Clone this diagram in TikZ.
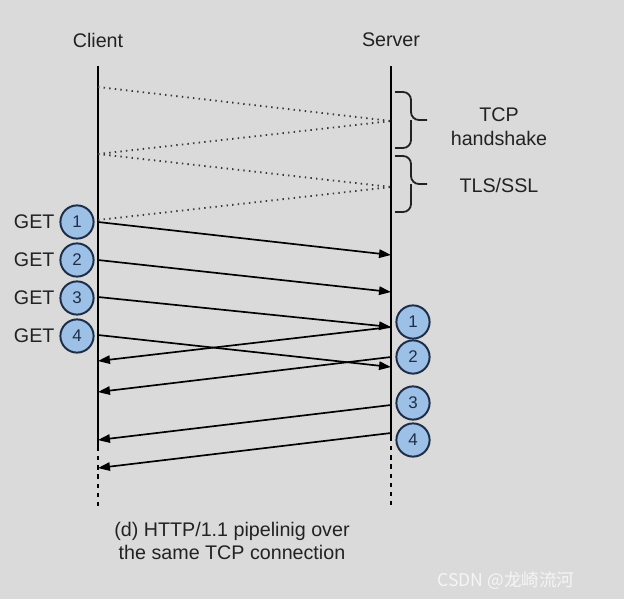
\documentclass[tikz,border=0pt]{standalone}
\usepackage{fontspec}
\setmainfont{Liberation Sans}
\newfontfamily\cjk{Noto Sans CJK SC}
\usepackage{tikz}
\usetikzlibrary{arrows.meta,positioning}

\definecolor{bggray}{HTML}{DADADA}
\definecolor{ballblue}{HTML}{9DC0E7}
\definecolor{balledge}{HTML}{1E2E48}
\definecolor{inkgray}{HTML}{222222}

\tikzset{
  life/.style={line width=1.4pt, draw=black},
  lifedash/.style={line width=1.4pt, draw=black, dash pattern=on 3pt off 3.5pt},
  hand/.style={line width=1.3pt, draw=inkgray!90, dash pattern=on 1pt off 3pt},
  msg/.style={line width=1.2pt, draw=black, -{Triangle[length=8.5pt,width=6pt]}},
  ball/.style={circle, draw=balledge, fill=ballblue, line width=1.4pt,
    minimum size=0.83cm, inner sep=0pt, text=balledge, font=\fontsize{12}{12}\selectfont},
  lbl/.style={text=inkgray, font=\fontsize{14}{17}\selectfont, align=center},
  brk/.style={line width=1.3pt, draw=inkgray, rounded corners=0.2cm}
}

\begin{document}
\begin{tikzpicture}[x=0.025cm, y=-0.025cm]
  \fill[bggray] (0,0) rectangle (624,599);
  \useasboundingbox (0,0) rectangle (624,599);

  % headings
  \node[lbl] (client) at (98,40)  {Client};
  \node[lbl] (server) at (391,40) {Server};

  % lifelines
  \coordinate (ctop) at (98,66);
  \coordinate (cmid) at (98,447);
  \coordinate (cend) at (98,507);
  \coordinate (stop) at (391,66);
  \coordinate (smid) at (391,437);
  \coordinate (send) at (391,507);
  \draw[life] (ctop) -- (cmid);
  \draw[lifedash] (cmid) -- (cend);
  \draw[life] (stop) -- (smid);
  \draw[lifedash] (smid) -- (send);

  % handshake and tls, dotted
  \coordinate (h1) at (98,87);
  \coordinate (h2) at (98,154);
  \coordinate (h3) at (98,220);
  \coordinate (k1) at (391,121);
  \coordinate (k2) at (391,187);
  \draw[hand] (h1) -- (k1);
  \draw[hand] (h2) -- (k1);
  \draw[hand] (h2) -- (k2);
  \draw[hand] (h3) -- (k2);

  % brackets
  \draw[brk] (395,92) -- (411,92) -- (411,120) -- (427,120);
  \draw[brk] (395,148) -- (411,148) -- (411,120);
  \draw[brk] (395,156) -- (411,156) -- (411,184) -- (427,184);
  \draw[brk] (395,212) -- (411,212) -- (411,184);
  \node[lbl] (tcp) at (499,127) {TCP\\handshake};
  \node[lbl] (tls) at (499,185) {TLS/SSL};

  % requests
  \node[ball] (g1) at (77,222) {1};
  \node[ball] (g2) at (77,260) {2};
  \node[ball] (g3) at (77,298) {3};
  \node[ball] (g4) at (77,336) {4};
  \node[lbl, left=0pt of g1] (get1) {GET};
  \node[lbl, left=0pt of g2] (get2) {GET};
  \node[lbl, left=0pt of g3] (get3) {GET};
  \node[lbl, left=0pt of g4] (get4) {GET};

  \coordinate (q1) at (98,222);
  \coordinate (q2) at (98,260);
  \coordinate (q3) at (98,297);
  \coordinate (q4) at (98,335);
  \coordinate (qe1) at (391,255);
  \coordinate (qe2) at (391,292);
  \coordinate (qe3) at (391,327);
  \coordinate (qe4) at (391,367);
  \draw[msg] (q1) -- (qe1);
  \draw[msg] (q2) -- (qe2);
  \draw[msg] (q3) -- (qe3);
  \draw[msg] (q4) -- (qe4);

  % responses
  \node[ball] (s1) at (413,322) {1};
  \node[ball] (s2) at (413,357) {2};
  \node[ball] (s3) at (413,403) {3};
  \node[ball] (s4) at (413,440) {4};

  \coordinate (r1) at (391,327);
  \coordinate (r2) at (391,357);
  \coordinate (r3) at (391,405);
  \coordinate (r4) at (391,433);
  \coordinate (re1) at (98,361);
  \coordinate (re2) at (98,392);
  \coordinate (re3) at (98,440);
  \coordinate (re4) at (98,468);
  \draw[msg] (r1) -- (re1);
  \draw[msg] (r2) -- (re2);
  \draw[msg] (r3) -- (re3);
  \draw[msg] (r4) -- (re4);

  % caption
  \node[lbl] (cap) at (232,541) {(d) HTTP/1.1 pipelinig over\\the same TCP connection};
  \node[text=white!92!gray, font=\cjk\fontsize{12.5}{14}\selectfont] (mark) at (506,581) {CSDN @龙崎流河};
\end{tikzpicture}
\end{document}
